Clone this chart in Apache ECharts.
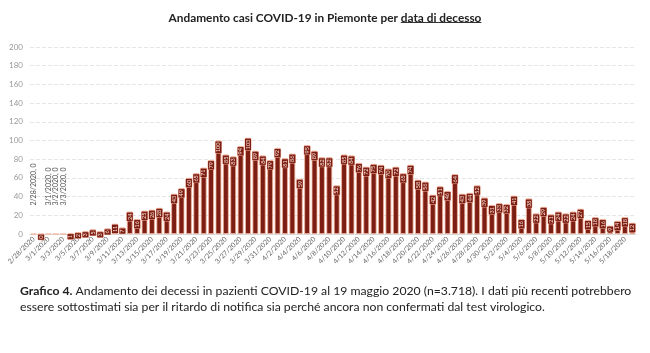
<!DOCTYPE html>
<html>
<head>
<meta charset="utf-8">
<script src="https://cdn.jsdelivr.net/npm/echarts@6/dist/echarts.min.js"></script>
<style>
  html, body { margin: 0; padding: 0; background: #fff; }
  #echart { width: 650px; height: 353px; }
</style>
</head>
<body>
<div id="echart"></div>
<script>
// decessi giornalieri dal 28/2 al 19/5
var decessi = [0, 0, 0, 0, 0, 1, 2, 3, 5, 3, 6, 11, 7,
  24, 16, 25, 26, 28, 24, 43, 49, 60, 65,
  71, 79, 100, 85, 83, 94, 103, 89, 84, 79,
  92, 81, 86, 59, 95, 89, 82, 82, 52, 85,
  84, 76, 72, 75, 74, 70, 72, 65, 74, 58,
  56, 42, 51, 46, 64, 43, 44, 52, 39, 31,
  33, 32, 41, 16, 38, 22, 29, 21, 24, 22,
  24, 27, 15, 18, 16, 9, 14, 18, 12];
var yTicks = [0, 20, 40, 60, 80, 100, 120, 140, 160, 180, 200];
// giorni con etichetta "data, valore"
var etichetteLunghe = [0, 2, 3, 4];

var giorni = [];
var d = new Date(2020, 1, 28);
for (var i = 0; i < decessi.length; i++) {
  giorni.push((d.getMonth() + 1) + '/' + d.getDate() + '/' + d.getFullYear());
  d.setDate(d.getDate() + 1);
}

var fill = '#7d1e14';
var bordo = '#f2b49c';
var font = 'Lato';

// misura del testo per adattare la dimensione al riferimento
var ctx = document.createElement('canvas').getContext('2d');
function larghezza(testo, peso, size) {
  ctx.font = peso + ' ' + size + 'px ' + font;
  return ctx.measureText(testo).width;
}

var titoloA = 'Andamento casi COVID-19 in Piemonte per ';
var titoloB = 'data di decesso';
var sizeTitolo = 10.5 * 313 / larghezza(titoloA + titoloB, 'bold', 10.5);
var xTitolo = 325 - larghezza(titoloA + titoloB, 'bold', sizeTitolo) / 2;
var xSott = xTitolo + larghezza(titoloA, 'bold', sizeTitolo);
var xSottFine = xTitolo + larghezza(titoloA + titoloB, 'bold', sizeTitolo);

var riga1b = 'Grafico 4.';
var riga1 = ' Andamento dei decessi in pazienti COVID-19 al 19 maggio 2020 (n=3.718). I dati più recenti potrebbero';
var riga2 = 'essere sottostimati sia per il ritardo di notifica sia perché ancora non confermati dal test virologico.';
var sizeNota = 10.5 * 612 / (larghezza(riga1b, 'bold', 10.5) + larghezza(riga1, 'normal', 10.5));

var dati = decessi.map(function (v, i) {
  if (etichetteLunghe.indexOf(i) >= 0) {
    return {
      value: v,
      label: {
        show: true, position: 'top', distance: 27, rotate: 90,
        align: 'left', verticalAlign: 'middle',
        formatter: '{b}, {c}', color: '#555', fontSize: 7,
        backgroundColor: 'transparent', borderWidth: 0
      }
    };
  }
  return v;
});

var myChart = echarts.init(document.getElementById('echart'));
var option = {
  animation: false,
  textStyle: { fontFamily: font },
  title: {
    text: titoloA + titoloB,
    left: 'center',
    top: 7,
    textStyle: { fontSize: sizeTitolo, fontWeight: 'bold', color: '#222', fontFamily: font }
  },
  grid: { left: 30, right: 14, top: 47, bottom: 119 },
  xAxis: {
    type: 'category',
    data: giorni,
    axisLine: { show: true, lineStyle: { color: '#d9d9d9' } },
    axisTick: { show: false },
    axisLabel: {
      interval: 1, rotate: 45, fontSize: 7, color: '#666', margin: 4
    }
  },
  yAxis: {
    type: 'value',
    min: yTicks[0],
    max: yTicks[yTicks.length - 1],
    interval: 20,
    axisLine: { show: false },
    axisTick: { show: false },
    axisLabel: { fontSize: 8, color: '#999', margin: 7 },
    splitLine: { lineStyle: { color: '#e6e6e6', type: 'dashed' } }
  },
  series: [
    {
      name: 'Decessi',
      type: 'bar',
      data: dati,
      barCategoryGap: '22%',
      itemStyle: { color: fill, borderColor: bordo, borderWidth: 0.8 },
      label: {
        show: true,
        position: 'insideTop',
        rotate: 90,
        align: 'right',
        verticalAlign: 'middle',
        distance: 1,
        fontSize: 5.5,
        color: '#fbe3d8',
        backgroundColor: fill,
        borderColor: bordo,
        borderWidth: 0.5,
        padding: [0, 1]
      }
    }
  ],
  graphic: [
    {
      type: 'line',
      shape: { x1: xSott, y1: 22.5, x2: xSottFine, y2: 22.5 },
      style: { stroke: '#333', lineWidth: 1 }
    },
    {
      type: 'text',
      left: 20,
      top: 283,
      style: {
        text: '{b|' + riga1b + '}' + riga1 + '\n' + riga2,
        font: sizeNota + 'px ' + font,
        fill: '#222',
        lineHeight: 16,
        rich: {
          b: { fontWeight: 'bold', fontSize: sizeNota, fill: '#222', fontFamily: font }
        }
      }
    }
  ]
};
myChart.setOption(option);
</script>
</body>
</html>
